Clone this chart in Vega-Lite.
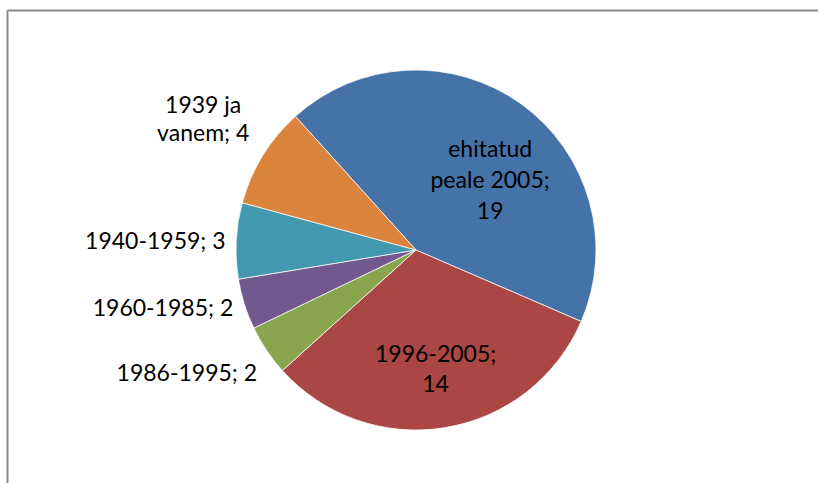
{
  "$schema": "https://vega.github.io/schema/vega-lite/v6.json",
  "width": 804,
  "height": 466,
  "autosize": {"type": "none"},
  "padding": {"left": 14, "top": 17, "right": 0, "bottom": 0},
  "background": "white",
  "config": {"view": {"stroke": null}},
  "data": {"values": [
    {"cat": "ehitatud peale 2005", "n": 19, "i": 1, "lbl": "ehitatud\npeale 2005;\n19"},
    {"cat": "1996-2005", "n": 14, "i": 2, "lbl": "1996-2005;\n14"},
    {"cat": "1986-1995", "n": 2, "i": 3, "lbl": "1986-1995; 2"},
    {"cat": "1960-1985", "n": 2, "i": 4, "lbl": "1960-1985; 2"},
    {"cat": "1940-1959", "n": 3, "i": 5, "lbl": "1940-1959; 3"},
    {"cat": "1939 ja vanem", "n": 4, "i": 6, "lbl": "1939 ja\nvanem; 4"}
  ]},
  "layer": [
    {
      "mark": {"type": "point", "opacity": 0},
      "encoding": {
        "x": {"datum": 0, "type": "quantitative", "scale": {"domain": [0, 1], "range": [-7, 804]}, "axis": {"orient": "top", "offset": 7, "domain": true, "domainColor": "#898989", "domainWidth": 2, "ticks": false, "labels": false, "grid": false, "title": null}},
        "y": {"datum": 0, "type": "quantitative", "scale": {"domain": [0, 1], "range": [466, -7]}, "axis": {"orient": "left", "offset": 7, "domain": true, "domainColor": "#898989", "domainWidth": 2, "ticks": false, "labels": false, "grid": false, "title": null}}
      }
    },
    {
      "mark": {"type": "arc", "radius": 180, "stroke": "white", "strokeWidth": 0.75},
      "encoding": {
        "theta": {"field": "n", "type": "quantitative", "stack": true, "scale": {"range": [-0.7341, 5.5491]}},
        "order": {"field": "i", "type": "quantitative"},
        "color": {
          "field": "cat", "type": "nominal", "legend": null,
          "scale": {
            "domain": ["ehitatud peale 2005", "1996-2005", "1986-1995", "1960-1985", "1940-1959", "1939 ja vanem"],
            "range": ["#4572A7", "#AA4643", "#89A54E", "#71588F", "#4198AF", "#DB843D"]
          }
        }
      }
    },
    {
      "mark": {"type": "text", "radius": 110, "dx": 10, "dy": -11, "font": "Lato", "fontSize": 23, "lineHeight": 31, "lineBreak": "\n", "color": "#000000"},
      "encoding": {
        "theta": {"field": "n", "type": "quantitative", "stack": true},
        "order": {"field": "i", "type": "quantitative"},
        "text": {"condition": {"test": "datum.i == 1", "field": "lbl"}, "value": ""}
      }
    },
    {
      "mark": {"type": "text", "radius": 121, "dx": 0, "dy": -14, "font": "Lato", "fontSize": 23, "lineHeight": 30, "lineBreak": "\n", "color": "#000000"},
      "encoding": {
        "theta": {"field": "n", "type": "quantitative", "stack": true},
        "order": {"field": "i", "type": "quantitative"},
        "text": {"condition": {"test": "datum.i == 2", "field": "lbl"}, "value": ""}
      }
    },
    {
      "mark": {"type": "text", "radius": 258, "dx": -15, "dy": -20, "font": "Lato", "fontSize": 23, "lineHeight": 30, "lineBreak": "\n", "color": "#000000"},
      "encoding": {
        "theta": {"field": "n", "type": "quantitative", "stack": true},
        "order": {"field": "i", "type": "quantitative"},
        "text": {"condition": {"test": "datum.i == 3", "field": "lbl"}, "value": ""}
      }
    },
    {
      "mark": {"type": "text", "radius": 258, "dx": -7, "dy": -19, "font": "Lato", "fontSize": 23, "lineHeight": 30, "lineBreak": "\n", "color": "#000000"},
      "encoding": {
        "theta": {"field": "n", "type": "quantitative", "stack": true},
        "order": {"field": "i", "type": "quantitative"},
        "text": {"condition": {"test": "datum.i == 4", "field": "lbl"}, "value": ""}
      }
    },
    {
      "mark": {"type": "text", "radius": 258, "dx": -3, "dy": 5, "font": "Lato", "fontSize": 23, "lineHeight": 30, "lineBreak": "\n", "color": "#000000"},
      "encoding": {
        "theta": {"field": "n", "type": "quantitative", "stack": true},
        "order": {"field": "i", "type": "quantitative"},
        "text": {"condition": {"test": "datum.i == 5", "field": "lbl"}, "value": ""}
      }
    },
    {
      "mark": {"type": "text", "radius": 258, "dx": 7, "dy": -9, "font": "Lato", "fontSize": 23, "lineHeight": 28, "lineBreak": "\n", "color": "#000000"},
      "encoding": {
        "theta": {"field": "n", "type": "quantitative", "stack": true},
        "order": {"field": "i", "type": "quantitative"},
        "text": {"condition": {"test": "datum.i == 6", "field": "lbl"}, "value": ""}
      }
    }
  ]
}
